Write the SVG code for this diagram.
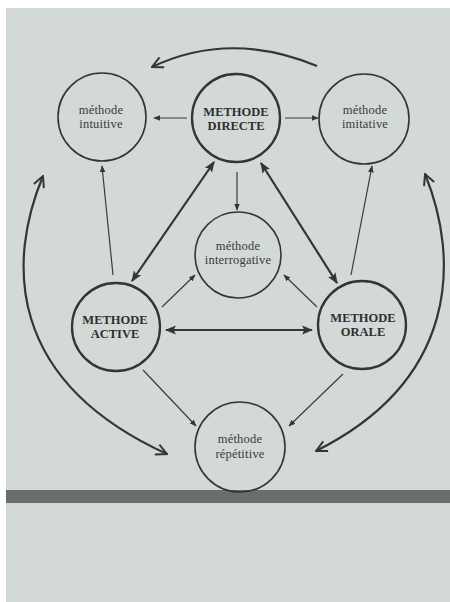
<svg xmlns="http://www.w3.org/2000/svg" width="450" height="602" viewBox="0 0 450 602">
<style>
.node circle{fill:none;stroke:#333435;stroke-width:1.6}
.node.main circle{stroke-width:2.3}
.lc{font-family:"Liberation Serif",serif;font-size:12.5px;letter-spacing:0.2px;fill:#3a3b3c;text-anchor:middle}
.uc{font-family:"Liberation Serif",serif;font-size:12.5px;font-weight:bold;fill:#2e2f30;text-anchor:middle}
.thin{fill:none;stroke:#3a3b3c;stroke-width:1.2}
.thick{fill:none;stroke:#343536;stroke-width:2.2}
.curve{fill:none;stroke:#343536;stroke-width:2.2}
</style>
<defs>
<marker id="ah" viewBox="0 0 10 10" refX="9" refY="5" markerWidth="7" markerHeight="7" orient="auto-start-reverse" markerUnits="userSpaceOnUse">
<path d="M0,1 L10,5 L0,9 Z" fill="#343536"/>
</marker>
<marker id="ahb" viewBox="0 0 10 10" refX="9" refY="5" markerWidth="11" markerHeight="11" orient="auto-start-reverse" markerUnits="userSpaceOnUse">
<path d="M0,1 L10,5 L0,9 L2,5 Z" fill="#343536"/>
</marker>
<marker id="av" viewBox="0 0 12 12" refX="11" refY="6" markerWidth="13" markerHeight="13" orient="auto-start-reverse" markerUnits="userSpaceOnUse">
<path d="M1,1 L11,6 L1,11" fill="none" stroke="#343536" stroke-width="1.8"/>
</marker>
</defs>
<rect x="0" y="0" width="450" height="602" fill="#ffffff"/>
<rect x="6" y="8" width="444" height="594" fill="#d3d9d6"/>
<rect x="6" y="490" width="444" height="13" fill="#6b6c6f"/>
<g id="connectors">
<path class="curve" d="M317,66 Q230,30 152,67" marker-end="url(#av)"/>
<path class="curve" d="M43,176 C8,260 5,380 167,454" marker-start="url(#av)" marker-end="url(#av)"/>
<path class="curve" d="M425,174 C460,260 458,380 316,451" marker-start="url(#av)" marker-end="url(#av)"/>
<path class="thin" d="M187,118 L154,118" marker-end="url(#ah)"/>
<path class="thin" d="M285,118 L318,118" marker-end="url(#ah)"/>
<path class="thin" d="M237,172 L237,210" marker-end="url(#ah)"/>
<path class="thick" d="M214,162 L132,281" marker-start="url(#ahb)" marker-end="url(#ahb)"/>
<path class="thick" d="M261,163 L337,283" marker-start="url(#ahb)" marker-end="url(#ahb)"/>
<path class="thin" d="M113,275 L102,166" marker-end="url(#ah)"/>
<path class="thin" d="M351,275 L372,166" marker-end="url(#ah)"/>
<path class="thin" d="M162,307 L195,275" marker-end="url(#ah)"/>
<path class="thin" d="M317,307 L284,275" marker-end="url(#ah)"/>
<path class="thick" d="M166,330 L312,330" marker-start="url(#ahb)" marker-end="url(#ahb)"/>
<path class="thin" d="M143,370 L196,426" marker-end="url(#ah)"/>
<path class="thin" d="M343,374 L289,426" marker-end="url(#ah)"/>
</g>
<g id="intuitive" class="node">
<circle cx="102" cy="117" r="44"/>
<text class="lc" x="101" y="114">méthode</text>
<text class="lc" x="101" y="128">intuitive</text>
</g>
<g id="directe" class="node main">
<circle cx="236" cy="118" r="44"/>
<text class="uc" x="236" y="116">METHODE</text>
<text class="uc" x="236" y="130">DIRECTE</text>
</g>
<g id="imitative" class="node">
<circle cx="364" cy="119" r="45"/>
<text class="lc" x="365" y="114">méthode</text>
<text class="lc" x="365" y="128">imitative</text>
</g>
<g id="interrogative" class="node">
<circle cx="238" cy="255" r="43"/>
<text class="lc" x="238" y="250">méthode</text>
<text class="lc" x="238" y="264">interrogative</text>
</g>
<g id="active" class="node main">
<circle cx="116" cy="327" r="44"/>
<text class="uc" x="115" y="324">METHODE</text>
<text class="uc" x="115" y="338">ACTIVE</text>
</g>
<g id="orale" class="node main">
<circle cx="362" cy="325" r="44"/>
<text class="uc" x="363" y="322">METHODE</text>
<text class="uc" x="363" y="336">ORALE</text>
</g>
<g id="repetitive" class="node">
<circle cx="240" cy="447" r="45"/>
<text class="lc" x="240" y="443">méthode</text>
<text class="lc" x="240" y="458">répétitive</text>
</g>
</svg>
